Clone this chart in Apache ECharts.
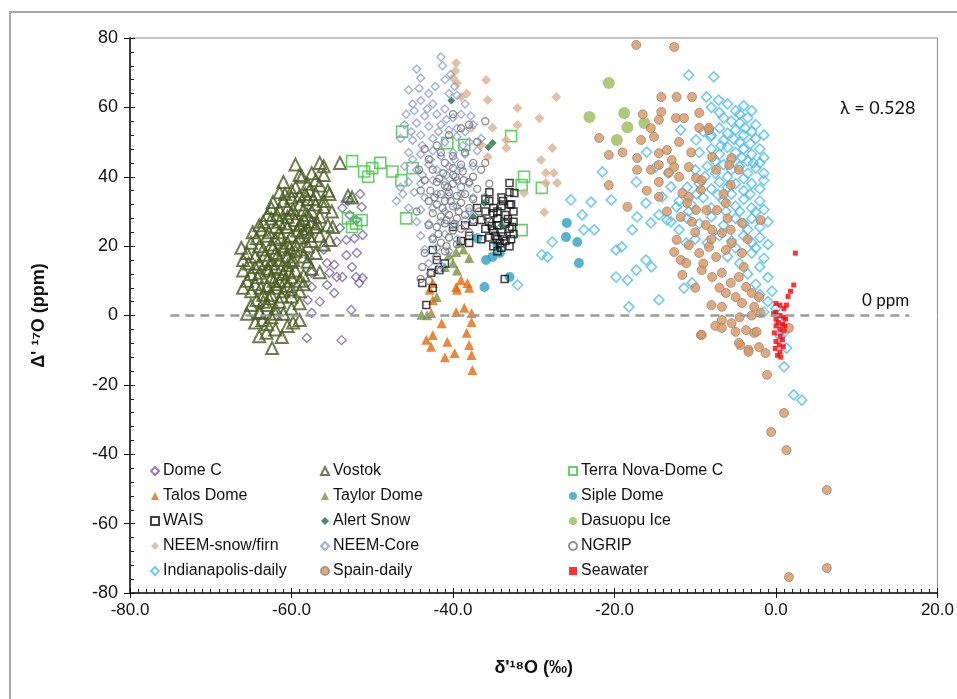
<!DOCTYPE html>
<html>
<head>
<meta charset="utf-8">
<script src="https://cdn.jsdelivr.net/npm/echarts@6/dist/echarts.min.js"></script>
<style>
  html, body { margin: 0; padding: 0; background: #fff; }
  #chart { width: 957px; height: 699px; }
</style>
</head>
<body>
<div id="chart"></div>
<script>
// [δ'18O (‰), Δ'17O (ppm)]
const domeC = [[-53.7,31],[-52.8,29],[-51.3,31.3],[-52,27.5],[-51.2,23.2],[-54,25.2],[-53.2,21.8],[-52.2,22.3],[-54.4,21.2],
  [-57.8,16.6],[-55.6,15.1],[-54.7,14.6],[-53.2,17.4],[-51.9,18],[-57.5,12.3],[-55.3,12.3],[-54.4,11.1],[-53.7,11.1],
  [-52,11.1],[-51.2,10.8],[-51.6,9.4],[-55.6,8.8],[-57.5,8.2],[-58,4.5],[-54.7,6.5],[-57.5,0.7],[-52.6,1.6],[-58.1,-6.5],
  [-53.8,-7.1],[-53,33],[-51.5,35],[-58.5,22],[-58,25],[-57,27],[-56,19],[-52.5,14],[-56.5,4]];
const vostok = [[-59.5,43.5],[-56.5,44],[-56,43],[-54,44],[-57.5,41],[-59,40.5],[-57,39],
  [-61,38.5],[-58,38],[-59.5,37],[-56.5,37.5],[-57.8,36],[-55.5,36],[-60,36],[-61.5,35.5],[-53,34.5],[-52.5,34],
  [-62.3,32.7],[-61,33],[-60,34],[-59,32],[-58,33.5],[-57,32],[-56,31.3],[-55.3,35],[-60.5,31],[-58.5,30.5],[-57.5,30],
  [-61.5,30.5],[-62.5,31],[-56,33],[-55,30],
  [-63.5,27],[-62.5,28],[-61.5,27],[-60.5,28.5],[-59.5,27.5],[-58.5,28],[-57.5,27],[-56.5,28.5],[-55.5,26],[-54.9,25.5],
  [-62,25.5],[-60.5,25.5],[-59,26],[-58,25],[-57,25.5],[-64,26],[-63,29],[-60,29.5],
  [-64.3,22.3],[-63.7,24.7],[-63,23],[-62,22],[-61.5,24],[-60.5,21],[-60,23],[-59,22.5],[-58.5,24],[-57.5,21.5],
  [-56.5,23],[-55.3,21.8],[-65,21],[-62.5,20.5],[-61,20],[-59.5,20.5],[-58,20],[-56,20.5],
  [-65.5,18],[-64.5,17],[-63.5,19],[-63,16],[-62,18],[-61.5,16],[-61,19],[-60.5,17],[-60,15.5],[-59.5,18.5],[-58.5,17],
  [-58,15.5],[-57,18],[-66,16],[-64,15],[-62.5,15],
  [-66,13],[-65,12],[-64.5,14],[-63.9,12.3],[-63,13.5],[-62.5,11],[-62,14],[-61,12],[-60.5,14.5],[-60,11],[-59.5,13],
  [-58.5,11.5],[-57.5,13.5],[-56.5,12.5],[-65.5,10],[-61.5,10],[-59,10],
  [-66,8],[-65,7],[-64.5,9],[-63.5,6],[-63,8.5],[-62.5,6],[-62,9],[-61,7],[-60.5,8.5],[-60,5.5],[-59,7],[-58.5,9],[-64.3,4.5],
  [-65,3],[-64,1],[-63.9,0.7],[-63,3],[-62,2],[-61.5,4],[-61,0.5],[-60,2],[-59,3.5],[-59,-1.3],[-62.5,-0.5],[-65.5,0.5],
  [-63.6,-1.3],[-63.1,-5],[-61.2,-6.2],[-62.4,-9.4],[-64.5,-2],[-60.5,-3],[-62,-4],[-64,-6],
  [-61.8,29],[-59.8,30.5],[-58.8,26.5],[-60.8,26.5],[-62.8,24],[-61.3,22.5],[-59.3,24.5],[-57.8,23],[-60.2,19.5],
  [-62.3,19.5],[-64,20],[-58.8,19],[-61.7,17.5],[-63.3,17.5],[-59.8,16],[-62.8,13],[-61.3,13.5],[-60.3,12.5],
  [-64.2,11],[-62.2,10],[-63.8,8],[-61.8,8],[-60.8,10],[-62.8,5],[-61.2,5.5],[-63.5,4],[-62,0.5],[-58.3,35],
  [-57,35],[-59,34.5],[-58,29],[-56.8,26.5],[-57.3,33.5],[-60.8,35],[-58.7,40],[-56,40.5],[-64.8,24],[-65.3,15],
  [-66.2,19.5],[-60,7.5],[-59.8,-2],[-63,-2.5]];
const terraNova = [[-52.5,44.5],[-51,41.5],[-50.5,40],[-49,44],[-47.5,41.5],[-50,42.5],[-46.3,53],[-45,42.5],[-46.4,39],
  [-45.8,28],[-40.7,49.7],[-38.6,49.2],[-32.8,51.7],[-31.2,40],[-31.5,37.6],[-29,36.8],[-31.5,24.6],[-53,28],[-52,26.5],
  [-51.3,27.5],[-52.5,25.5]];
const talos = [[-39.6,8.2],[-38,8],[-42.9,7.4],[-42.5,4.5],[-42.7,0.7],[-41.4,-2.2],[-42.5,-5.6],[-42.7,-9],[-40.7,-7.6],
  [-39.8,-10.8],[-38,-8.5],[-37.7,-11.4],[-37.6,-15.7],[-38.6,2.2],[-37.7,0.7],[-39.6,1],[-37.7,-1.9],[-39.5,7.4],
  [-39,10.2],[-38.2,9.4],[-42.5,9.4],[-43.3,-7],[-41,-12],[-38.3,-5]];
const taylor = [[-39.2,21],[-39.6,18.3],[-40,15.1],[-39.5,13],[-38,16.6],[-42,5.3],[-43.2,0.1],[-43.9,0.2],[-41,14],
  [-40.5,17.5],[-38.7,19]];
const siple = [[-37,22.3],[-35.9,16],[-36.1,8.2],[-35.1,16.9],[-34.2,18],[-33,11.1],[-25.9,26.7],[-26,22.6],[-24.6,21.2],
  [-24.4,15.1],[-34.5,20.5]];
const wais = [[-35.5,33],[-34,34],[-33,35.5],[-32.4,35.3],[-33,38.2],[-35,31],[-34,31.5],[-33,32],[-36,30],[-35,29.5],
  [-34.5,28],[-33.5,29],[-32.5,30],[-36.5,27.5],[-35.5,27],[-34.5,26],[-33.5,26.5],[-32.5,27],[-36,25],[-35,24.5],
  [-34,24],[-33,25],[-32.5,23.5],[-35.5,22.5],[-34.5,22],[-33.5,21.5],[-32.8,22],[-35,20],[-34,19.5],[-33,20],
  [-34.5,18.5],[-36.5,22],[-37.5,27],[-38.5,26],[-40,25.5],[-38,23],[-37,31],[-33.6,10.5],[-38,20.9],[-39,21.5],
  [-42.5,18.9],[-42,16],[-43.8,9.4],[-42.5,7.9],[-43.3,3],[-42.7,12.3],[-41.7,13.1],[-41,15],[-35.5,35.5],[-34.5,30],
  [-36,33.5],[-33.8,33],[-32.8,32],[-34.8,23],[-33.8,22.8],[-33.2,27.8],[-35.2,25.8],[-34.2,20.8],[-32.7,25.5]];
const alertSnow = [[-40.2,62],[-35.1,49.7],[-35.6,48.5],[-36.1,32.4],[-37.5,28.5],[-34,26]];
const dasuopu = [[-20.7,67],[-23.1,57.2],[-18.8,58.4],[-18.4,54.3],[-16.3,55.5],[-19.7,50.6]];
const neemSnow = [[-39.6,72.8],[-39.7,70.5],[-40,68.5],[-39.5,67],[-35.9,67.9],[-35.7,62.1],[-32,59.8],[-29.3,56.9],
  [-27.2,63],[-35.1,54.1],[-32,54.9],[-33.4,50.6],[-33.4,48.3],[-27.7,48.3],[-29.1,44.8],[-28.5,41.1],[-27.5,41.1],
  [-27.1,38.2],[-28.5,38.2],[-31.2,35.3],[-28.7,29.8],[-37.7,54.1],[-36.5,49.2],[-35.7,45.7],[-38.3,64],[-39,63]];
const neemCore = [[-41.5,74.5],[-41.3,72],[-44.5,71],[-44,68.5],[-41,68],[-40.3,69.5],[-39.8,66],[-45.5,65],[-43,64],
  [-40.5,64],[-45,61],[-44,62],[-42.5,61],[-39.5,63.5],[-38.5,61],[-45.8,58],[-44.8,59],[-43.5,57.5],[-42,58],[-41,59.5],
  [-40,57],[-39,58],[-37.8,57.5],[-46,55],[-44.5,55.5],[-43,54.5],[-41.5,55],[-40.5,53.5],[-39.5,54],[-38.5,53],
  [-37.5,55],[-46.5,51],[-45,50.5],[-44,52],[-42.5,51],[-41,50],[-39.5,51.5],[-38,50],[-36.5,51],[-45.5,47],[-44,46.5],
  [-42.5,47.5],[-41.5,46],[-40,47],[-38.5,46.5],[-37,47.5],[-46,43],[-44.5,42],[-43,43.5],[-42,42],[-40.5,43],[-39,42.5],
  [-37.5,43],[-45.5,38.5],[-44,38],[-42.5,39],[-41,38.5],[-39.5,39],[-38,38],[-46.2,35],[-44.8,35.5],[-43.5,34],[-42,35],
  [-40.5,34.5],[-39,35],[-37.5,34],[-45.5,31],[-44,30.5],[-42.5,31],[-41,30],[-39.5,31.5],[-38,30],[-44.5,27],[-43,26.5],
  [-41.5,27],[-40,26],[-38.5,27.5],[-44,23],[-42.5,22.5],[-41,23.5],[-39.5,22],[-43.5,19],[-42,19.5],[-40.5,18.5],
  [-43,15],[-41.5,14.5],[-46.5,37],[-47,33],[-43.8,49],[-41.8,53],[-40.8,56.5],[-43.2,59.5],[-42.2,66],[-44.2,65.5],
  [-45.2,53],[-42.8,45],[-40.8,40.5],[-43.8,40.5],[-45,45],[-39.8,45],[-38.8,49]];
const ngrip = [[-36,56],[-39,54],[-40.5,52],[-37,50],[-42,49],[-38.5,47],[-40,46],[-43,45],[-41,44],[-39,43.5],[-37.5,44],
  [-42.5,42],[-41.2,41],[-40,40.5],[-38.8,41.5],[-37.5,40],[-36.5,42],[-43.5,39],[-42,38.5],[-41,37.5],[-40,38],[-39,37],
  [-38,38.5],[-37,36.5],[-42.8,36],[-41.5,35],[-40.5,35.5],[-39.5,34.5],[-38.5,35],[-37.5,33.5],[-36,34],[-43,33],[-42,32],
  [-41,33],[-40,31.5],[-39,32.5],[-38,31],[-36.8,30],[-42.5,29.5],[-41.5,28.5],[-40.5,29],[-39.5,28],[-38.5,29],
  [-37.5,27.5],[-43,26],[-42,25.5],[-41,26.5],[-40,24.5],[-39,25],[-38,24],[-42.5,22],[-41.5,21],[-40.5,22.5],
  [-39.5,20.5],[-43.5,18],[-42,17],[-41,18.5],[-43.8,14],[-42.8,12],[-41.5,13],[-44,10.5],[-43,10],[-36,44],[-35.5,38],
  [-35.8,28],[-44.5,30],[-44,36],[-44.2,42],[-43.5,48],[-38,55],[-40,58],[-41.7,39.5],[-40.7,37],[-39.7,40],[-38.7,39],
  [-42.3,34],[-41.3,31],[-40.3,33],[-39.3,30],[-40.8,27.5],[-39.8,26.5],[-41.8,23.5],[-40.8,20],[-40,42.5],[-41.5,47]];
const indianapolis = [[-21.5,41.4],[-22.9,32.7],[-20.4,33.3],[-23.8,24.7],[-22.5,24.7],[-19.8,18.9],[-19.8,11.1],
  [-18.4,10.2],[-18.2,2.5],[-17.3,13.1],[-16.1,16],[-14.5,4.5],[-15.4,14],[-17.8,24.7],[-19.1,19.8],[-17.2,28.4],
  [-15.5,26.7],[-14.5,29],[-13.5,27.5],[-14.1,34.2],[-16.1,32.4],[-17.3,38.5],[-16,47.1],[-14.9,42.8],[-13.3,41.1],
  [-13,37.1],[-12.3,31.3],[-12,24.7],[-11.1,20.9],[-11.4,7.9],[-10.4,9.4],[-10.8,69.3],[-7.7,68.8],[-8.6,63],[-7.1,62.1],
  [-11.8,53.5],[-9.9,50.6],[-8.1,51.5],[-32,8.8],[-28.3,16.9],[-27.7,21.2],[-25.4,33.3],[-24,29],[-29,17.5],
  [1,-14.8],[2.2,-22.9],[3.2,-24.4],[1.3,-9.4],[0.5,-6],
  [-8,60],[-7,58.5],[-6,61],[-5,59],[-4,60.5],[-3.5,57],[-5.5,56],[-4.5,55.5],[-6.5,57],[-3,59],[-2.5,55],
  [-9,53],[-8,52],[-7,54],[-6,52.5],[-5,53.5],[-4,52],[-3,53],[-2.5,51],[-6.5,50.5],[-4.5,50],[-1.5,52],
  [-9.5,47],[-8,48],[-7,46.5],[-6,48.5],[-5,47],[-4,48],[-3,46.5],[-2,48],[-1.5,45.5],[-5.5,45],[-3.5,44.5],
  [-10,42],[-8.5,43],[-7.5,41],[-6.5,43.5],[-5.5,42],[-4.5,43],[-3.5,41],[-2.5,42.5],[-1.5,41],[-6,40],[-2,44],
  [-11,37],[-9.5,38],[-8,36.5],[-7,38.5],[-6,37],[-5,38],[-4,36],[-3,38],[-2,36.5],[-1.5,39],[-5.5,35],
  [-12,33],[-10.5,32],[-9,34],[-8,31],[-6.5,33],[-5,31.5],[-4,33.5],[-3,31],[-2,33],[-1.5,30.5],
  [-13,27],[-11,28],[-9.5,26.5],[-8,28.5],[-6.5,26],[-5,28],[-4,26.5],[-3,28],[-2,25.5],[-1,27],
  [-10,22],[-8.5,21],[-7,23],[-5.5,21.5],[-4,23],[-3,21],[-2,22.5],[-1,20.5],
  [-6,17],[-4.5,15],[-3,18],[-2,14],[-1.5,16.5],[-3.5,12],[-1,11],[-2.5,9],
  [-2,6],[-1,4],[-0.5,7],[0,2],[-1.5,1],[0.5,-2],[1,-5],
  [-4.5,58],[-3.8,54],[-5.2,50.8],[-3.2,49.5],[-4.2,45.5],[-2.8,44],[-4,39.5],[-3.2,35],[-4.5,30],[-2.5,29.8],
  [-6.8,49],[-7.5,44.5],[-8.8,40],[-9.8,35],[-10.8,30],[-7.2,34.8],[-6.2,30],[-3.5,24.8],[-2.5,19.5],[-5,19.5]];
const spain = [[-17.3,78],[-12.6,77.4],[-14.2,63],[-12.3,63],[-10.4,63],[-14.2,58.7],[-12.4,56.9],[-11.4,56.9],[-9.5,54.1],
  [-8.3,53.5],[-21.9,51.2],[-20.7,46.3],[-17.2,45.4],[-16.7,50.6],[-15.1,51.5],[-17.2,42],[-15.5,42],[-14.5,43.4],
  [-20.7,37.6],[-18.4,31.3],[-14.5,38.5],[-14.5,46.8],[-12.9,44.8],[-12.6,42.8],[-12,40],[-9.9,39.6],[-9.2,39],
  [-7.9,45.7],[-7.4,42],[-5.5,45.4],[-4.6,42],[-5.6,37.6],[-6.2,32.4],[-11.6,35.3],[-10.8,34.2],[-11,32.4],[-9.9,30.4],
  [-8.6,30.4],[-7.3,30.4],[-11.8,28.4],[-10.4,27],[-8.7,26.1],[-7.9,24.7],[-6.7,23.8],[-5.6,24.7],[-4.2,26.7],
  [-1.9,27.5],[-12.3,21.8],[-12.6,18.3],[-10.8,20.3],[-9.5,18],[-8.3,19.8],[-7.4,16.9],[-6.2,18.9],[-5.5,20.9],
  [-4.2,18],[-11.8,16],[-11.1,15.1],[-11.6,11.7],[-9.2,13.1],[-7.9,11.1],[-6.7,12.3],[-5.6,9.4],[-4.6,11.1],[-3.7,8.2],
  [-3,6.5],[-5,5.3],[-6.2,6.5],[-6.7,2.5],[-4.2,3.6],[-2.7,2.5],[-1.9,0.7],[-6.7,-1.3],[-5.5,-2.2],[-5,-4.7],[-3.7,-4.2],
  [-2.7,-5],[-4.4,-8.5],[-3.4,-9.9],[-2.1,-9.1],[-9.3,-5.6],[-2.1,5.3],[-13.5,47.7],[-9.5,58.4],[-8.3,54.1],[-14.5,56.4],
  [-5.8,43.4],[-10.8,42.8],[-9.3,36.2],[-13.3,41.1],[-14.5,34.2],[-16,36],[-13.5,30],[-10,24],[-8,22],[-6,28],
  [-9,15],[-7,8],[-4,14],[-3,0],[-8,3],[-10,8],[-12,50],[-10.5,47],[-6.5,35],[-3.5,22],[-7.5,-3],[-4.5,-0.5],
  [1.6,-3.6],[-1.1,-17.1],[1,-28.1],[-0.6,-33.6],[1.3,-38.8],[6.3,-50.3],[6.3,-72.8],[1.6,-75.4],[-9.2,-5.6],
  [-6.7,-3.6],[-4.6,-7.9],[-3.4,-10.5],[-1.3,-10.8],[-2.4,-4.7],[-16.5,58],[-19,47],[-15.5,54]];
const seawater = [[0,3.5],[0.5,3],[1,2],[0,1],[0.5,0],[1,-0.5],[0,-1],[0.3,-2],[0.8,-2.5],[0,-3],[0.5,-4],[1,-4.5],
  [-0.2,-5],[0.5,-6],[0.8,-7],[0,-7.5],[0.4,-8.5],[0.9,-9],[-0.1,-9.5],[0.5,-10.5],[0.2,-11.5],[0.6,-12],[1.2,-1],
  [1.3,3],[1.5,5.5],[1.8,7],[2.2,8.8],[2.4,18],[-0.3,0.5],[1.1,-3]];

const legendCols = [
  ['Dome C', 'Talos Dome', 'WAIS', 'NEEM-snow/firn', 'Indianapolis-daily'],
  ['Vostok', 'Taylor Dome', 'Alert Snow', 'NEEM-Core', 'Spain-daily'],
  ['Terra Nova-Dome C', 'Siple Dome', 'Dasuopu Ice', 'NGRIP', 'Seawater']
];
const legendLeft = [145, 315, 563];

const FONT = '"Liberation Sans", Arial, sans-serif';
const chart = echarts.init(document.getElementById('chart'));

const open = (color, w) => ({ color: 'rgba(255,255,255,0)', borderColor: color, borderWidth: w || 1.2 });

const mk = (name, data, symbol, size, itemStyle) => ({
  name, type: 'scatter', data, symbol, symbolSize: size, itemStyle, emphasis: { disabled: true }
});

const series = [
  mk('Dome C', domeC, 'diamond', 9, open('#7360b0', 1.4)),
  mk('Vostok', vostok, 'triangle', 12, open('#4a5d22', 2)),
  mk('Terra Nova-Dome C', terraNova, 'rect', 11, open('#3ec73e', 1.6)),
  mk('Talos Dome', talos, 'triangle', 10, { color: '#e46c0a' }),
  mk('Taylor Dome', taylor, 'triangle', 10, { color: '#77933c' }),
  mk('Siple Dome', siple, 'circle', 10, { color: '#31a0c0' }),
  mk('WAIS', wais, 'rect', 7, open('#111111', 1.5)),
  mk('Alert Snow', alertSnow, 'diamond', 8, { color: '#1e7145' }),
  mk('Dasuopu Ice', dasuopu, 'circle', 12, { color: '#9bbb59' }),
  mk('NEEM-snow/firn', neemSnow, 'diamond', 10, { color: '#dcb294' }),
  mk('NEEM-Core', neemCore, 'diamond', 8, open('#8b9dd5', 1.4)),
  mk('NGRIP', ngrip, 'circle', 7, open('#777777', 1.4)),
  mk('Indianapolis-daily', indianapolis, 'diamond', 10, open('#4dbdf0', 1.6)),
  mk('Spain-daily', spain, 'circle', 9, { color: '#d9955e', borderColor: '#9a8a7c', borderWidth: 1 }),
  mk('Seawater', seawater, 'rect', 5, { color: '#ff0000' })
];

// 0 ppm reference line
series.push({
  type: 'line', data: [], silent: true,
  markLine: {
    symbol: 'none', silent: true,
    lineStyle: { color: '#9a9a9a', type: [9, 6], width: 2.5 },
    label: {
      show: true, position: 'insideEndTop', formatter: '0 ppm',
      fontFamily: 'Lato, sans-serif', fontSize: 17, color: '#111', distance: [0, 6]
    },
    data: [[{ coord: [-75, 0] }, { coord: [16.5, 0] }]]
  }
});

const xBase = { type: 'value', min: -80, max: 20, interval: 20, splitLine: { show: false } };
const yBase = { type: 'value', min: -80, max: 80, interval: 20, splitLine: { show: false } };

chart.setOption({
  animation: false,
  grid: { left: 130, right: 18, top: 38, bottom: 106, show: true, borderColor: '#8a8a8a', borderWidth: 1 },
  xAxis: [
    Object.assign({}, xBase, {
      name: "δ'¹⁸O (‰)", nameLocation: 'middle', nameGap: 66,
      nameTextStyle: { fontFamily: FONT, fontSize: 18, fontWeight: 'bold', color: '#111' },
      axisLine: { onZero: false, lineStyle: { color: '#111', width: 1.5 } },
      axisTick: { inside: true, length: 5, lineStyle: { color: '#111' } },
      minorTick: { show: true, splitNumber: 20, length: 4, lineStyle: { color: '#222' } },
      axisLabel: { formatter: v => v.toFixed(1), fontFamily: FONT, fontSize: 17, color: '#111', margin: 9 }
    }),
    Object.assign({}, xBase, {
      position: 'bottom', axisLine: { show: false, onZero: false }, axisLabel: { show: false },
      axisTick: { inside: false, length: 5, lineStyle: { color: '#111' } }
    })
  ],
  yAxis: [
    Object.assign({}, yBase, {
      name: "Δ' ¹⁷O (ppm)", nameLocation: 'middle', nameGap: 82, nameRotate: 90,
      nameTextStyle: { fontFamily: FONT, fontSize: 18, fontWeight: 'bold', color: '#111' },
      axisLine: { onZero: false, lineStyle: { color: '#111', width: 1.5 } },
      axisTick: { inside: true, length: 5, lineStyle: { color: '#111' } },
      minorTick: { show: true, splitNumber: 5, length: 4, lineStyle: { color: '#222' } },
      axisLabel: { fontFamily: FONT, fontSize: 18, color: '#111', margin: 12 }
    }),
    Object.assign({}, yBase, {
      position: 'left', axisLine: { show: false, onZero: false }, axisLabel: { show: false },
      axisTick: { inside: false, length: 6, lineStyle: { color: '#111' } }
    })
  ],
  legend: legendCols.map((col, i) => ({
    data: col, orient: 'vertical', left: legendLeft[i], top: 458,
    itemWidth: 8, itemHeight: 8, itemGap: 9, selectedMode: false,
    textStyle: { fontFamily: FONT, fontSize: 16, color: '#111', padding: [0, 0, 0, -1] }
  })),
  graphic: [
    { type: 'rect', silent: true, shape: { x: 10, y: 12, width: 960, height: 700 },
      style: { fill: 'none', stroke: '#a8a8a8', lineWidth: 2 } },
    { type: 'text', silent: true, left: 840, top: 99,
      style: { text: 'λ = 0.528', font: '18px Lato, sans-serif', fill: '#111' } }
  ],
  series
});
</script>
</body>
</html>
